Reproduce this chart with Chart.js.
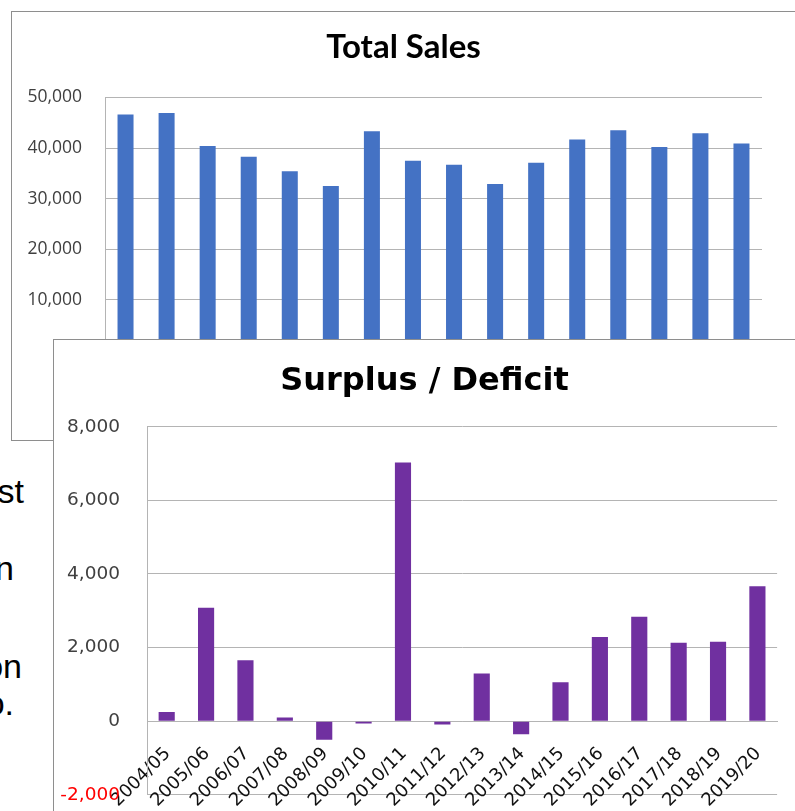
<!DOCTYPE html>
<html>
<head>
<meta charset="utf-8">
<script src="https://cdn.jsdelivr.net/npm/chart.js@4.4.1/dist/chart.umd.min.js"></script>
<style>
  html, body { margin: 0; padding: 0; background: #fff; }
  #page { position: relative; width: 795px; height: 811px; overflow: hidden; background: #fff; }
  .frag { position: absolute; font: 34px "Liberation Sans", Arial, sans-serif; line-height: 1; white-space: nowrap; color: #000; }
  .box { position: absolute; border: 1px solid #8e8e8e; background: #fff; overflow: hidden; }
  #salesBox { left: 11px; top: 11px; width: 820px; height: 428px; }
  #surplusBox { left: 53px; top: 339px; width: 820px; height: 520px; }
  canvas { position: absolute; left: 0; top: 0; }
</style>
</head>
<body>
<div id="page">
  <!-- bits of slide text peeking out from behind the charts -->
  <div class="frag" style="right: 771px; top: 474px">st</div>
  <div class="frag" style="right: 781px; top: 551px">n</div>
  <div class="frag" style="right: 773px; top: 649px">on</div>
  <div class="frag" style="right: 781px; top: 686px">o.</div>

  <div class="box" id="salesBox"><canvas id="salesChart" width="783" height="372"></canvas></div>
  <div class="box" id="surplusBox"><canvas id="surplusChart" width="741" height="493"></canvas></div>
</div>
<script>
const seasons = ['2004/05', '2005/06', '2006/07', '2007/08', '2008/09', '2009/10', '2010/11', '2011/12',
    '2012/13', '2013/14', '2014/15', '2015/16', '2016/17', '2017/18', '2018/19', '2019/20']

const totalSales = [46600, 46900, 40400, 38300, 35400, 32500, 43300, 37500,
    36700, 32900, 37100, 41700, 43500, 40200, 42900, 40900]

const surplus = [250, 3080, 1660, 100, -500, -60, 7030, -90,
    1300, -350, 1060, 2290, 2840, 2130, 2160, 3665]

const salesTicks = [0, 10000, 20000, 30000, 40000, 50000]
const surplusTicks = [-2000, 0, 2000, 4000, 6000, 8000]

const gridGrey = '#b4b4b4'
const labelGrey = '#404040'

function formatTick(value) {
    return Number(value).toLocaleString('en-US')
}

function fixedTicks(list) {
    return scale => { scale.ticks = list.map(v => ({ value: v })) }
}

// empty right-hand axis, only there to keep a gap without shifting the centred title
function spacerAxis(width) {
    return {
        position: 'right',
        display: true,
        grid: { display: false, drawTicks: false },
        border: { display: false },
        ticks: { display: false },
        afterFit: scale => { scale.width = width },
    }
}

function drawSalesChart() {
    const ctx = document.getElementById('salesChart').getContext('2d')
    new Chart(ctx, {
        type: 'bar',
        data: {
            labels: seasons,
            datasets: [{
                data: totalSales,
                backgroundColor: '#4472C4',
                barPercentage: 0.39,
                categoryPercentage: 1,
            }]
        },
        options: {
            responsive: false,
            animation: false,
            layout: { padding: { left: 0, right: 0, top: 0, bottom: 10.5 } },
            plugins: {
                legend: { display: false },
                tooltip: { enabled: false },
                title: {
                    display: true,
                    text: 'Total Sales',
                    color: '#000',
                    font: { family: 'Lato', size: 33, weight: 'bold' },
                    padding: { top: 15.5, bottom: 30.3 },
                },
            },
            scales: {
                x: { display: false },
                y: {
                    min: 0,
                    max: 50000,
                    afterBuildTicks: fixedTicks(salesTicks),
                    afterFit: scale => { scale.width = 93 },
                    ticks: {
                        padding: 23,
                        color: labelGrey,
                        font: { family: 'Open Sans', size: 17.5 },
                        callback: formatTick,
                    },
                    grid: { color: gridGrey, drawTicks: false },
                    border: { color: gridGrey },
                },
                gap: spacerAxis(33),
            }
        }
    })
}

function drawSurplusChart() {
    const ctx = document.getElementById('surplusChart').getContext('2d')
    new Chart(ctx, {
        type: 'bar',
        data: {
            labels: seasons,
            datasets: [{
                data: surplus,
                backgroundColor: '#7030A0',
                barPercentage: 0.41,
                categoryPercentage: 1,
            }]
        },
        options: {
            responsive: false,
            animation: false,
            layout: { padding: { left: 0, right: 0, top: 0, bottom: 17 } },
            plugins: {
                legend: { display: false },
                tooltip: { enabled: false },
                title: {
                    display: true,
                    text: 'Surplus / Deficit',
                    color: '#000',
                    font: { family: 'DejaVu Sans', size: 32, weight: 'bold' },
                    padding: { top: 22.6, bottom: 25.7 },
                },
            },
            scales: {
                x: {
                    position: { y: 0 },
                    grid: { display: false, drawTicks: false },
                    border: { color: gridGrey },
                    ticks: {
                        autoSkip: false,
                        minRotation: 45,
                        maxRotation: 45,
                        padding: 22,
                        labelOffset: 1,
                        color: '#111',
                        font: { family: 'DejaVu Sans', size: 18 },
                    },
                },
                y: {
                    min: -2000,
                    max: 8000,
                    afterBuildTicks: fixedTicks(surplusTicks),
                    afterFit: scale => { scale.width = 93 },
                    ticks: {
                        padding: 27,
                        font: { family: 'DejaVu Sans', size: 18.5 },
                        color: c => (c.tick && c.tick.value < 0 ? '#ff0000' : labelGrey),
                        callback: formatTick,
                    },
                    grid: { color: gridGrey, drawTicks: false },
                    border: { color: gridGrey },
                },
                gap: spacerAxis(10),
            }
        }
    })
}

drawSalesChart()
drawSurplusChart()
</script>
</body>
</html>
